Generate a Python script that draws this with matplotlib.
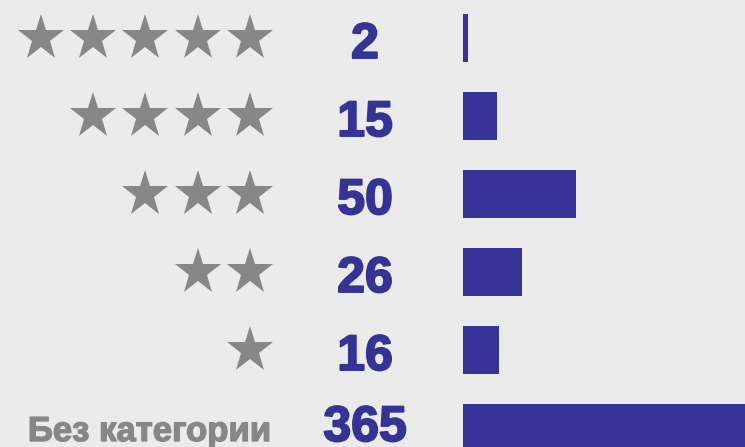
import matplotlib

matplotlib.use("Agg")
import matplotlib.pyplot as plt
import matplotlib.patheffects as pe

# rows, top to bottom
star_counts = [5, 4, 3, 2, 1, 0]
row_labels = ["", "", "", "", "", "Без категории"]
counts = [2, 15, 50, 26, 16, 365]

BG = "#ebebeb"
BLUE = "#363396"
GRAY = "#878787"
FONT = "Liberation Sans"

W, H = 745, 447
row_y0, row_step = 38, 78  # px, centre of first row and spacing
ylim = ((H - row_y0) / row_step, -row_y0 / row_step)
bar_x0 = 463  # px where bars start
px_per_unit = 2.26

fig = plt.figure(figsize=(W / 100, H / 100), dpi=100)
fig.patch.set_facecolor(BG)

# left part: stars, labels, numbers (x in pixels)
axl = fig.add_axes([0, 0, bar_x0 / W, 1])
axl.set_xlim(0, bar_x0)
axl.set_ylim(*ylim)
axl.axis("off")

# right part: bars (x in data units)
axr = fig.add_axes([bar_x0 / W, 0, 1 - bar_x0 / W, 1])
axr.set_xlim(0, (W - bar_x0) / px_per_unit)
axr.set_ylim(*ylim)
axr.axis("off")

star_right, star_step = 250, 52.3
last = len(counts) - 1
for i, (n, lab, c) in enumerate(zip(star_counts, row_labels, counts)):
    if n:
        xs = [star_right - k * star_step for k in range(n)]
        axl.plot(xs, [i] * n, ls="none", marker="*", markersize=35,
                 markeredgewidth=0, color=GRAY)
    if lab:
        axl.text(271, i + 13 / row_step, lab, family=FONT, weight="bold",
                 size=25, color=GRAY, ha="right", va="baseline",
                 path_effects=[pe.withStroke(linewidth=1.0, foreground=GRAY)])
    off = 13 if i == last else 20
    axl.text(365, i + off / row_step, str(c), family=FONT, weight="bold",
             size=36, color=BLUE, ha="center", va="baseline",
             path_effects=[pe.withStroke(linewidth=1.4, foreground=BLUE)])

axr.barh(range(len(counts)), counts, height=48 / row_step, color=BLUE)

fig.savefig("out.png", dpi=100, facecolor=fig.get_facecolor())
